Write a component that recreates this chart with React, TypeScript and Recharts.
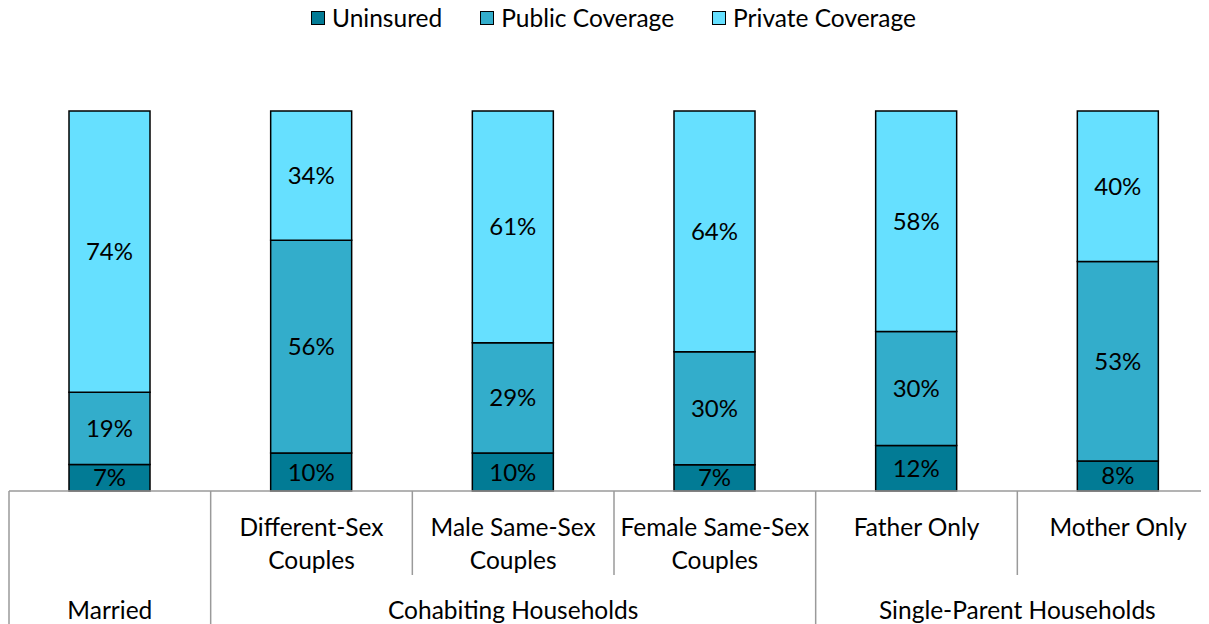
import React from "react";
import { BarChart, Bar, XAxis, YAxis, Legend, LabelList } from "recharts";

const categories = [
  "Married",
  "Different-Sex Couples",
  "Male Same-Sex Couples",
  "Female Same-Sex Couples",
  "Father Only",
  "Mother Only",
];
const subLabels = [
  "",
  "Different-Sex\nCouples",
  "Male Same-Sex\nCouples",
  "Female Same-Sex\nCouples",
  "Father Only",
  "Mother Only",
];
const groupLabels = [
  "Married",
  "Cohabiting Households",
  "Cohabiting Households",
  "Cohabiting Households",
  "Single-Parent Households",
  "Single-Parent Households",
];
const uninsured = [7, 10, 10, 7, 12, 8];
const publicCoverage = [19, 56, 29, 30, 30, 53];
const privateCoverage = [74, 34, 61, 64, 58, 40];

const seriesNames = ["Uninsured", "Public Coverage", "Private Coverage"];
const seriesColors = ["#027B95", "#33ADCB", "#66E0FF"];

const data = categories.map((c, i) => ({
  name: c,
  uninsured: uninsured[i],
  publicCov: publicCoverage[i],
  privateCov: privateCoverage[i],
}));

const FONT = "Lato, 'Open Sans', sans-serif";
const FS = 24.5;
const LFS = 24;
const CHART_W = 1201;
const CHART_H = 616;
const M_L = 1;
const M_R = -10;
const BAND = (CHART_W - M_L - M_R) / categories.length;
const GRID = "#9a9a9a";

function Tick(props: any) {
  const { x, y, payload } = props;
  let i = payload && typeof payload.index === "number" ? payload.index : categories.indexOf(payload.value);
  if (i < 0) i = categories.indexOf(payload.value);
  const half = BAND / 2;
  const leftX = x - half;
  const isGroupStart = i === 0 || groupLabels[i] !== groupLabels[i - 1];
  let groupEnd = i;
  while (groupEnd + 1 < categories.length && groupLabels[groupEnd + 1] === groupLabels[i]) groupEnd++;
  const lines = subLabels[i] ? subLabels[i].split("\n") : [];
  return (
    <g>
      <line
        x1={leftX}
        x2={leftX}
        y1={y}
        y2={y + (isGroupStart ? 140 : 84)}
        stroke={GRID}
        strokeWidth={1.5}
      />
      {lines.map((l, k) => (
        <text
          key={k}
          x={x}
          y={y + 35 + k * 33}
          textAnchor="middle"
          dominantBaseline="central"
          fontFamily={FONT}
          fontSize={FS}
          fill="#000"
        >
          {l}
        </text>
      ))}
      {isGroupStart && (
        <text
          x={x + (groupEnd - i) * half}
          y={y + 118}
          textAnchor="middle"
          dominantBaseline="central"
          fontFamily={FONT}
          fontSize={FS}
          fill="#000"
        >
          {groupLabels[i]}
        </text>
      )}
    </g>
  );
}

function LegendContent(props: any) {
  const payload = [...(props.payload || [])].sort(
    (a: any, b: any) => seriesNames.indexOf(a.value) - seriesNames.indexOf(b.value)
  );
  return (
    <div
      style={{
        display: "flex",
        justifyContent: "center",
        alignItems: "center",
        height: 30,
        paddingLeft: 10,
        boxSizing: "border-box",
        fontFamily: FONT,
        fontSize: FS,
        color: "#000",
      }}
    >
      {payload.map((p: any, k: number) => (
        <div key={k} style={{ display: "flex", alignItems: "center", marginRight: k < payload.length - 1 ? 38 : 0 }}>
          <span
            style={{
              display: "inline-block",
              width: 12,
              height: 12,
              background: p.color,
              border: "1.5px solid #000",
              marginRight: 7,
            }}
          />
          <span style={{ lineHeight: "30px", whiteSpace: "nowrap" }}>{p.value}</span>
        </div>
      ))}
    </div>
  );
}

const pct = (v: any) => `${v}%`;

export default function App() {
  return (
    <div style={{ width: CHART_W, height: CHART_H, fontFamily: FONT }}>
      <BarChart
        width={CHART_W}
        height={CHART_H}
        data={data}
        stackOffset="expand"
        margin={{ top: 73, right: M_R, bottom: 0, left: M_L }}
      >
        <Legend
          verticalAlign="top"
          content={<LegendContent />}
          wrapperStyle={{ top: -5, left: 0, width: CHART_W, height: 30 }}
        />
        <YAxis hide domain={[0, 1]} />
        <XAxis
          dataKey="name"
          interval={0}
          height={133}
          tickLine={false}
          tickSize={0}
          tickMargin={0}
          axisLine={{ stroke: GRID, strokeWidth: 1.5 }}
          tick={<Tick />}
        />
        <Bar dataKey="uninsured" name={seriesNames[0]} stackId="a" fill={seriesColors[0]} stroke="#000" strokeWidth={1.5} barSize={81} isAnimationActive={false}>
          <LabelList dataKey="uninsured" position="center" formatter={pct} fill="#000" fontFamily={FONT} fontSize={LFS} />
        </Bar>
        <Bar dataKey="publicCov" name={seriesNames[1]} stackId="a" fill={seriesColors[1]} stroke="#000" strokeWidth={1.5} barSize={81} isAnimationActive={false}>
          <LabelList dataKey="publicCov" position="center" formatter={pct} fill="#000" fontFamily={FONT} fontSize={LFS} />
        </Bar>
        <Bar dataKey="privateCov" name={seriesNames[2]} stackId="a" fill={seriesColors[2]} stroke="#000" strokeWidth={1.5} barSize={81} isAnimationActive={false}>
          <LabelList dataKey="privateCov" position="center" formatter={pct} fill="#000" fontFamily={FONT} fontSize={LFS} />
        </Bar>
      </BarChart>
    </div>
  );
}
